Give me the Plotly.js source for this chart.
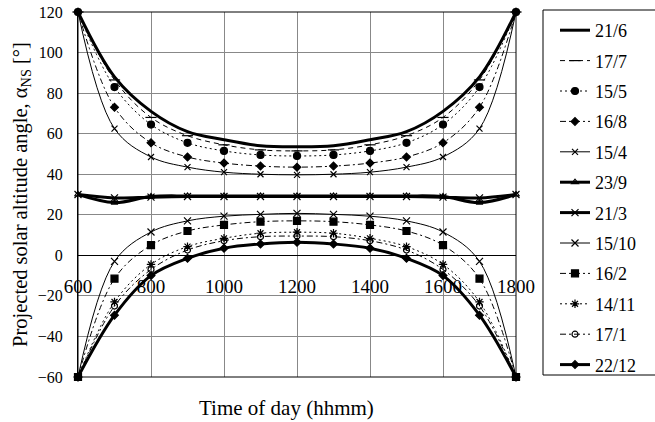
<!DOCTYPE html>
<html><head><meta charset="utf-8">
<script src="https://cdn.plot.ly/plotly-3.0.1.min.js"></script>
<style>html,body{margin:0;padding:0;background:#fff}#chart{width:655px;height:422px}</style>
</head><body><div id="chart"></div>
<script>
const times = [600,700,800,900,1000,1100,1200,1300,1400,1500,1600,1700,1800];
const xTickVals = [600,800,1000,1200,1400,1600,1800];
const yTickVals = [-60,-40,-20,0,20,40,60,80,100,120];
const seriesNames = ['21/6','17/7','15/5','16/8','15/4','23/9','21/3','15/10','16/2','14/11','17/1','22/12'];

const v21_6  = [120, 88, 71, 61, 57, 54, 53.5, 54, 57, 61, 71, 88, 120];
const v17_7  = [120, 86.5, 68, 59, 54.5, 52, 51.5, 52, 54.5, 59, 68, 86.5, 120];
const v15_5  = [120, 83, 64.5, 55.5, 51.5, 49.5, 49, 49.5, 51.5, 55.5, 64.5, 83, 120];
const v16_8  = [120, 73, 55.5, 48.5, 45.5, 44, 43.5, 44, 45.5, 48.5, 55.5, 73, 120];
const v15_4  = [120, 62.5, 48.5, 43.5, 41, 40, 39.7, 40, 41, 43.5, 48.5, 62.5, 120];
const v23_9  = [30, 26, 29, 29.3, 29.3, 29.3, 29.3, 29.3, 29.3, 29.3, 29, 26, 30];
const v21_3  = [30, 28.3, 28.7, 29, 29, 29, 29, 29, 29, 29, 28.7, 28.3, 30];
const v15_10 = [-60, -3, 11.5, 17, 19.3, 20.2, 20.7, 20.2, 19.3, 17, 11.5, -3, -60];
const v16_2  = [-60, -11.5, 5, 12, 15, 16.6, 17, 16.6, 15, 12, 5, -11.5, -60];
const v14_11 = [-60, -23, -4.5, 4.3, 8.4, 10.9, 11.4, 10.9, 8.4, 4.3, -4.5, -23, -60];
const v17_1  = [-60, -25, -7, 2.6, 7.2, 9.2, 9.5, 9.2, 7.2, 2.6, -7, -25, -60];
const v22_12 = [-60, -29.5, -10, -1.5, 3.5, 5.6, 6.4, 5.6, 3.5, -1.5, -10, -29.5, -60];

const seriesValues = [v21_6, v17_7, v15_5, v16_8, v15_4, v23_9, v21_3, v15_10, v16_2, v14_11, v17_1, v22_12];

// visual styles: [lineWidth, dash, markerSymbol, markerSize]
const styles = [
  [3, 'solid', null, 0],
  [1, '5px,4px', 'line-ew-open', 8],
  [1, '2px,3px', 'circle', 7],
  [1, '6px,3px,2px,3px', 'diamond', 6],
  [1, 'solid', 'x-thin-open', 6],
  [3, 'solid', 'triangle-up-open', 6],
  [3, 'solid', 'x-thin-open', 7],
  [1, 'solid', 'x-thin-open', 7],
  [1, '6px,3px,2px,3px', 'square', 7],
  [1, '2px,3px', 'asterisk-open', 7],
  [1, '6px,3px,2px,3px', 'circle-open', 6],
  [3, 'solid', 'diamond', 6]
];

const traces = seriesNames.map((name, i) => {
  const s = styles[i];
  const t = {
    x: times, y: seriesValues[i], name: name, type: 'scatter',
    legendgroup: 'g' + i,
    mode: s[2] ? 'lines+markers' : 'lines',
    line: {color: '#000', width: s[0], dash: s[1], shape: 'spline', smoothing: 1},
    cliponaxis: false
  };
  if (s[2]) t.marker = {symbol: s[2], size: s[3], color: '#000', line: {color: '#000', width: 1.2}};
  return t;
});

const serif = 'Liberation Serif';
const L = 78, R = 139, T = 12, B = 45;
const W = 655, H = 422;
const pw = W - L - R, ph = H - T - B;
const px2x = p => (p - L) / pw;
const px2y = p => (H - B - p) / ph;

const layout = {
  width: W, height: H,
  margin: {l: L, r: R, t: T, b: B, pad: 0},
  paper_bgcolor: '#fff', plot_bgcolor: '#fff',
  font: {family: serif, color: '#000'},
  showlegend: true,
  legend: {
    x: px2x(555), y: px2y(12), xanchor: 'left', yanchor: 'top',
    font: {family: serif, size: 18, color: '#000'},
    bgcolor: 'rgba(0,0,0,0)', borderwidth: 0,
    tracegroupgap: 4, traceorder: 'grouped', maxheight: 1000
  },
  xaxis: {
    range: [600, 1800], tickvals: xTickVals, ticktext: xTickVals.map(String),
    anchor: 'free', position: 1/3,
    showgrid: true, gridcolor: '#888', gridwidth: 1,
    showline: true, linecolor: '#000', linewidth: 1,
    ticks: 'outside', ticklen: 14, tickcolor: 'rgba(0,0,0,0)',
    tickfont: {family: serif, size: 19, color: '#000'},
    zeroline: false, fixedrange: true
  },
  yaxis: {
    range: [-60, 120], tickvals: yTickVals,
    showgrid: true, gridcolor: '#888', gridwidth: 1,
    showline: true, linecolor: '#000', linewidth: 1,
    ticks: 'outside', ticklen: 11, tickcolor: 'rgba(0,0,0,0)',
    tickfont: {family: serif, size: 16, color: '#000'},
    zeroline: true, zerolinecolor: '#000', zerolinewidth: 1,
    title: {text: 'Projected solar altitude angle, α<sub>NS</sub> [°]', font: {family: serif, size: 20.5, color: '#000'}, standoff: 4},
    fixedrange: true
  },
  annotations: [{
    text: 'Time of day (hhmm)', xref: 'paper', yref: 'paper',
    x: px2x(286), y: px2y(408), xanchor: 'center', yanchor: 'middle',
    showarrow: false, font: {family: serif, size: 21, color: '#000'}
  }],
  shapes: [
    {type: 'rect', xref: 'paper', yref: 'paper', x0: 0, x1: 1, y0: 0, y1: 1, line: {color: '#000', width: 1}, layer: 'above'},
    {type: 'rect', xref: 'paper', yref: 'paper', x0: px2x(543), x1: px2x(662), y0: px2y(375), y1: px2y(10), line: {color: '#000', width: 1}, layer: 'above'}
  ]
};

Plotly.newPlot('chart', traces, layout, {displayModeBar: false, staticPlot: true});
</script>
</body></html>
